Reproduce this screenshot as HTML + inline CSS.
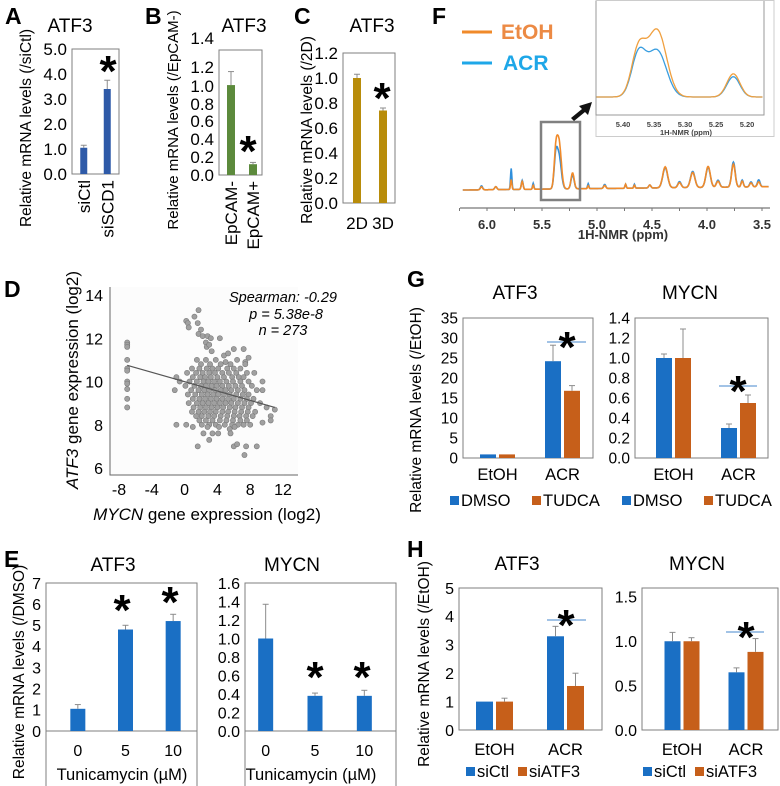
<!DOCTYPE html>
<html><head><meta charset="utf-8">
<style>
html,body{margin:0;padding:0;background:#fff;}
svg{display:block;font-family:"Liberation Sans",Arial,sans-serif;}
</style></head>
<body>
<svg id="fig" width="780" height="786" viewBox="0 0 780 786" xmlns="http://www.w3.org/2000/svg"></svg>
<script>
// ---------- data ----------
const aCats = ['siCtl','siSCD1'];
const aVals = [1.05, 3.4];
const aErrs = [0.1, 0.35];
const bCats = ['EpCAM-','EpCAM+'];
const bVals = [1.0, 0.12];
const bErrs = [0.15, 0.02];
const cCats = ['2D','3D'];
const cVals = [1.0, 0.74];
const cErrs = [0.03, 0.02];
const eCats = ['0','5','10'];
const eAtf3 = [1.05, 4.8, 5.2];
const eAtf3Err = [0.2, 0.2, 0.32];
const eMycn = [1.0, 0.38, 0.38];
const eMycnErr = [0.37, 0.03, 0.06];
const gCats = ['EtOH','ACR'];
const gAtf3Dmso = [0.9, 24.2];
const gAtf3DmsoErr = [0, 4];
const gAtf3Tudca = [0.9, 16.8];
const gAtf3TudcaErr = [0, 1.3];
const gMycnDmso = [1.0, 0.3];
const gMycnDmsoErr = [0.04, 0.04];
const gMycnTudca = [1.0, 0.55];
const gMycnTudcaErr = [0.29, 0.08];
const hAtf3Ctl = [1.0, 3.3];
const hAtf3CtlErr = [0, 0.35];
const hAtf3Si = [1.0, 1.55];
const hAtf3SiErr = [0.12, 0.45];
const hMycnCtl = [1.0, 0.65];
const hMycnCtlErr = [0.1, 0.05];
const hMycnSi = [1.0, 0.88];
const hMycnSiErr = [0.04, 0.15];
const scatterPts = [
[-7,11.8],[-7,11.7],[-7,11.6],[-7,11.0],[-7,10.6],[-7,10.5],[-7,10.0],[-7,9.9],[-7,9.65],[-7,9.2],[-7,8.8],
[0.2,12.8],[0.4,12.7],[0.5,12.5],[1.2,13.0],[1.6,12.7],[1.7,13.3],[2.0,12.4],[1.7,12.2],[2.2,12.1],[2.8,12.1],[3.2,12.0],[4.3,12.0],
[2.6,11.8],[2.7,11.6],[3.0,11.7],[3.3,11.4],[4.8,11.2],[5.3,11.3],[6.0,11.5],[7.2,11.5],[7.8,11.1],[7.4,10.9],
[1.5,11.0],[2.6,11.0],[3.8,11.0],[5.0,10.9],[6.4,11.0],
[2.0,10.8],[3.1,10.8],[4.4,10.8],[5.6,10.8],[7.4,10.8],
[0.9,10.6],[1.8,10.6],[2.7,10.6],[3.4,10.6],[4.1,10.6],[5.2,10.6],[6.0,10.6],[6.8,10.6],
[0.3,10.4],[1.4,10.4],[2.2,10.4],[3.0,10.4],[3.7,10.4],[4.6,10.4],[5.4,10.4],[6.3,10.4],[7.6,10.4],[8.5,10.4],
[-1.0,10.2],[1.0,10.2],[1.9,10.2],[2.5,10.2],[3.2,10.2],[4.0,10.2],[4.8,10.2],[5.8,10.2],[6.6,10.2],[7.2,10.2],
[-0.6,10.0],[0.6,10.0],[1.5,10.0],[2.3,10.0],[2.9,10.0],[3.6,10.0],[4.3,10.0],[5.1,10.0],[5.9,10.0],[6.8,10.0],[7.8,10.0],[9.5,10.0],
[0.1,9.8],[1.2,9.8],[2.0,9.8],[2.6,9.8],[3.3,9.8],[3.9,9.8],[4.6,9.8],[5.4,9.8],[6.2,9.8],[7.0,9.8],[8.2,9.8],
[-1.2,9.6],[0.8,9.6],[1.7,9.6],[2.4,9.6],[3.0,9.6],[3.7,9.6],[4.4,9.6],[5.0,9.6],[5.7,9.6],[6.5,9.6],[7.3,9.6],[8.8,9.6],[9.5,9.6],
[0.4,9.4],[1.3,9.4],[2.1,9.4],[2.8,9.4],[3.5,9.4],[4.1,9.4],[4.8,9.4],[5.5,9.4],[6.3,9.4],[7.1,9.4],[7.8,9.4],
[1.0,9.2],[1.8,9.2],[2.5,9.2],[3.2,9.2],[3.9,9.2],[4.6,9.2],[5.3,9.2],[6.0,9.2],[6.8,9.2],[7.6,9.2],[8.4,9.2],
[0.5,9.0],[1.5,9.0],[2.2,9.0],[2.9,9.0],[3.6,9.0],[4.3,9.0],[5.0,9.0],[5.7,9.0],[6.5,9.0],[7.3,9.0],[8.1,9.0],[9.2,9.0],
[1.1,8.8],[1.9,8.8],[2.6,8.8],[3.3,8.8],[4.0,8.8],[4.7,8.8],[5.5,8.8],[6.2,8.8],[7.0,8.8],[7.8,8.8],[10.0,8.8],[11.0,8.7],
[0.9,8.6],[1.7,8.6],[2.4,8.6],[3.1,8.6],[3.8,8.6],[4.6,8.6],[5.3,8.6],[6.1,8.6],[6.9,8.6],[7.7,8.6],[8.6,8.6],
[1.4,8.4],[2.1,8.4],[2.9,8.4],[3.6,8.4],[4.4,8.4],[5.2,8.4],[6.0,8.4],[6.7,8.4],[7.5,8.4],[8.3,8.4],[10.5,8.4],
[1.8,8.2],[2.6,8.2],[3.4,8.2],[4.3,8.2],[5.1,8.2],[5.9,8.2],[6.8,8.2],[7.6,8.2],[10.5,8.2],[9.5,8.1],
[-1.0,8.0],[0.2,8.0],[2.1,8.0],[3.0,8.0],[3.8,8.0],[4.9,8.0],[5.8,8.0],[6.5,8.0],[7.2,8.0],[8.0,8.0],
[1.0,7.9],[2.8,7.9],[4.2,7.9],[6.1,7.9],[5.5,7.8],
[2.3,7.6],[3.4,7.6],[4.1,7.6],[5.6,7.6],[3.0,7.3],
[1.6,7.0],[6.0,7.0],[7.5,7.0],[8.8,7.0],[6.4,7.1],[7.3,6.6]
];
const regX = [-7, 11];
const regY = [10.75, 8.8];
const nmrPpm   = [6.05, 5.92, 5.78, 5.68, 5.58, 5.375, 5.345, 5.222, 5.08, 4.93, 4.74, 4.66, 4.52, 4.38, 4.25, 4.13, 3.99, 3.9, 3.76, 3.68, 3.6, 3.53];
const nmrEtoh  = [3, 3, 10, 8, 4, 32, 46, 16, 3, 3, 4, 3, 3, 21, 5, 15, 21, 6, 23, 6, 4, 5];
const nmrAcr   = [4, 3, 21, 9, 6, 29, 32, 14, 5, 4, 4, 4, 3, 20, 6, 16, 20, 7, 25, 7, 5, 7];
const nmrWidth = [0.01, 0.01, 0.006, 0.008, 0.006, 0.015, 0.02, 0.014, 0.006, 0.01, 0.006, 0.006, 0.01, 0.022, 0.015, 0.02, 0.02, 0.015, 0.016, 0.01, 0.012, 0.012];

// ---------- helpers ----------
const NS = 'http://www.w3.org/2000/svg';
const svg = document.getElementById('fig');
function el(tag, attrs, parent){
  const e = document.createElementNS(NS, tag);
  for (const k in attrs) e.setAttribute(k, attrs[k]);
  (parent || svg).appendChild(e);
  return e;
}
function txt(s, x, y, attrs, parent){
  const t = el('text', Object.assign({x:x, y:y}, attrs||{}), parent);
  t.textContent = s;
  return t;
}
function linScale(d0,d1,r0,r1){ return v => r0 + (v-d0)/(d1-d0)*(r1-r0); }

[['A',5,24],['B',145,24],['C',294,24],['D',4,297],['E',4,567],['F',432,24],['G',407,287],['H',407,557]].forEach(p=>{
  const t = txt(p[0], p[1], p[2], {'font-size':23,'font-weight':'bold'});
  
  
});

function title(s, x, y){
  const t = txt(s, x, y, {'font-size':19,'text-anchor':'middle'});
  
  
}
function yTitle(s, x, cy, size){
  const t = txt(s, 0, 0, {'font-size':size||15.5,'text-anchor':'middle','transform':'translate('+x+','+cy+') rotate(-90)'});
  
  
  return t;
}
function star(x, y, size){
  const t = txt('*', x, y, {'font-size':size||44,'font-weight':'bold','text-anchor':'middle'});
  
  
}

function barChart(cfg){
  const g = el('g', {});
  
  
  const [x0,x1,yT,yB] = cfg.frame;
  const y = linScale(0, cfg.yMax, yB, yT);
  const fb = cfg.frameBottom || yB;
  const fs = cfg.fs || 16;
  const fr = el('rect', {x:x0, y:yT, width:x1-x0, height:fb-yT, fill:'none', stroke:'#7f7f7f', 'stroke-width':1}, g);
  
  
  if (fb !== yB){
    const ax = el('line', {x1:x0, x2:x1, y1:yB, y2:yB, stroke:'#7f7f7f'}, g);
    
    
  }
  cfg.ticks.forEach((v,i)=>{
    const ty = cfg.tickY ? cfg.tickY[i] : y(v);
    const t = txt(cfg.tickLabels[i], x0-5, ty+fs*0.36, {'font-size':fs,'text-anchor':'end'}, g);
    
    
  });
  const [r0,r1] = cfg.xRange;
  const band = (r1-r0)/cfg.cats.length;
  const ns = cfg.series.length;
  cfg.cats.forEach((c,i)=>{
    const cx = r0 + band*(i+0.5);
    cfg.series.forEach((s,j)=>{
      const off = ns===1 ? 0 : (j-(ns-1)/2)*(cfg.barW+cfg.gap);
      const bx = cx + off - cfg.barW/2;
      const v = s.vals[i];
      const b = el('rect', {x:bx, y:y(v), width:cfg.barW, height:yB-y(v), fill:s.color}, g);
      
      
      const e = s.errs[i];
      if (e>0){
        const ex = cx+off, ey = y(v+e);
        const l1 = el('line', {x1:ex, x2:ex, y1:y(v), y2:ey, stroke:'#8c8c8c', 'stroke-width':1}, g);
        
        
        const l2 = el('line', {x1:ex-3, x2:ex+3, y1:ey, y2:ey, stroke:'#8c8c8c', 'stroke-width':1}, g);
        
        
      }
    });
    if (cfg.rotLabels){
      const t = txt(c, 0, 0, {'font-size':fs,'text-anchor':'end','transform':'translate('+(cx+6)+','+(yB+6)+') rotate(-90)'}, g);
      
      
    } else {
      const t = txt(c, cx, cfg.xLabelY, {'font-size':cfg.xfs||fs,'text-anchor':'middle'}, g);
      
      
    }
  });
  return {g, y};
}

// A
title('ATF3', 70, 32);
barChart({name:'chart-a', frame:[72,119,49,174], yMax:5, ticks:[0,1,2,3,4,5], tickLabels:['0.0','1.0','2.0','3.0','4.0','5.0'],
  xRange:[72,119], cats:aCats, series:[{vals:aVals, errs:aErrs, color:'#2e5aa8'}], barW:7, gap:0, rotLabels:true, fs:17});
yTitle('Relative mRNA levels (/siCtl)', 31, 128);
star(108, 86);

// B
title('ATF3', 244, 32);
barChart({name:'chart-b', frame:[219,262,50,175], yMax:1.39, ticks:[0,0.2,0.4,0.6,0.8,1.0,1.2,1.4],
  tickY:[175,157,139,121,104,86,67,38],
  tickLabels:['0.0','0.2','0.4','0.6','0.8','1.0','1.2','1.4'],
  xRange:[220,264], cats:bCats, series:[{vals:bVals, errs:bErrs, color:'#5c8a3c'}], barW:8, gap:0, rotLabels:true, fs:17});
yTitle('Relative mRNA levels (/EpCAM-)', 178, 120, 15);
star(248, 166);

// C
title('ATF3', 372, 32);
barChart({name:'chart-c', frame:[343,395,53,203], yMax:1.2, ticks:[0,0.2,0.4,0.6,0.8,1.0,1.2], tickLabels:['0.0','0.2','0.4','0.6','0.8','1.0','1.2'],
  xRange:[344,396], cats:cCats, series:[{vals:cVals, errs:cErrs, color:'#b88c0a'}], barW:8, gap:0, xLabelY:229, fs:17});
yTitle('Relative mRNA levels (/2D)', 312, 130);
star(382, 113);

// F
(function(){
  const g = el('g', {});
  
  
  const px = linScale(6.0, 3.5, 487, 762);
  const base = ppm => 190 - (6.2-ppm)*1.2;
  function specPath(h){
    let d = '';
    for (let p = 6.22; p >= 3.44; p -= 0.004){
      let v = 0;
      for (let k=0;k<nmrPpm.length;k++){
        const z = (p-nmrPpm[k])/nmrWidth[k];
        v += h[k]*Math.exp(-0.5*z*z);
      }
      d += (d?'L':'M') + px(p).toFixed(1) + ',' + (base(p)-v).toFixed(1);
    }
    return d;
  }
  const s1 = el('path', {d:specPath(nmrAcr), fill:'none', stroke:'#2f8fdc', 'stroke-width':1.6}, g);
  
  
  const s2 = el('path', {d:specPath(nmrEtoh), fill:'none', stroke:'#f08a2a', 'stroke-width':1.6}, g);
  
  
  const ax = el('line', {x1:460, x2:770, y1:208, y2:208, stroke:'#777', 'stroke-width':1.2}, g);
  
  
  [6.0,5.5,5.0,4.5,4.0,3.5].forEach(v=>{
    const t = txt(v.toFixed(1), px(v), 229, {'font-size':13,'font-weight':'bold','text-anchor':'middle','fill':'#333'}, g);
    
    
  });
  for (let v=6.25; v>=3.5; v-=0.25){
    const tk = el('line', {x1:px(v), x2:px(v), y1:208, y2:211, stroke:'#777'}, g);
    
    
  }
  const xt = txt('1H-NMR (ppm)', 623, 239, {'font-size':13,'font-weight':'bold','text-anchor':'middle','fill':'#333'}, g);
  
  
  const box = el('rect', {x:541, y:122, width:39, height:78, fill:'none', stroke:'#808080', 'stroke-width':2.5}, g);
  
  
  const arr = el('path', {d:'M571,118 L582,109 L579,106 L592,102 L588,115 L585,112 L574,121 Z', fill:'#111'}, g);
  
  
  const l1 = el('line', {x1:462, x2:492, y1:32, y2:32, stroke:'#f08a2a', 'stroke-width':3}, g);
  
  
  const t1 = txt('EtOH', 501, 39, {'font-size':21,'font-weight':'bold','fill':'#ec8a44'}, g);
  
  
  const l2 = el('line', {x1:462, x2:492, y1:63, y2:63, stroke:'#1ea7e8', 'stroke-width':3}, g);
  
  
  const t2 = txt('ACR', 503, 70, {'font-size':21,'font-weight':'bold','fill':'#1ea7e8'}, g);
  
  
  const ig = el('g', {}, g);
  
  
  const ob = el('rect', {x:596, y:0.5, width:178, height:136, fill:'#fff', stroke:'#ccc'}, ig);
  
  
  const ipx = linScale(5.40, 5.20, 623, 747);
  const ib = el('path', {d:'M596,1 L596,115 L764,115 L764,1', fill:'none', stroke:'#999'}, ig);
  
  
  function insetPath(h){
    let d='';
    for (let p=5.443; p>=5.175; p-=0.002){
      let v=0;
      for (let k=5;k<8;k++){
        const w = nmrWidth[k]*0.75;
        const z=(p-nmrPpm[k])/w; v+=h[k]*Math.exp(-0.5*z*z);
      }
      d += (d?'L':'M') + ipx(p).toFixed(1)+','+(97 - v*1.45).toFixed(1);
    }
    return d;
  }
  const ia = el('path', {d:insetPath(nmrAcr), fill:'none', stroke:'#3a9ee0', 'stroke-width':1.3}, ig);
  
  
  const ie = el('path', {d:insetPath(nmrEtoh), fill:'none', stroke:'#f0a040', 'stroke-width':1.3}, ig);
  
  
  [5.40,5.35,5.30,5.25,5.20].forEach(v=>{
    const t = txt(v.toFixed(2), ipx(v), 127, {'font-size':7.5,'font-weight':'bold','text-anchor':'middle','fill':'#444'}, ig);
    
    
  });
  const it = txt('1H-NMR (ppm)', 686, 135, {'font-size':7.5,'font-weight':'bold','text-anchor':'middle','fill':'#444'}, ig);
  
  
})();

// D
(function(){
  const g = el('g', {});
  
  
  const x = linScale(-8, 12, 119, 283);
  const y = linScale(6, 14, 468, 295);
  const bg = el('rect', {x:110, y:287, width:188, height:188, fill:'#fcfcfc'}, g);
  
  
  const ax = el('path', {d:'M110,287 L110,475 L298,475', fill:'none', stroke:'#666'}, g);
  
  
  [-8,-4,0,4,8,12].forEach(v=>{
    const t = txt(String(v), x(v), 495, {'font-size':16,'text-anchor':'middle'}, g);
    
    
  });
  [6,8,10,12,14].forEach(v=>{
    const t = txt(String(v), 103, y(v)+6, {'font-size':16,'text-anchor':'end'}, g);
    
    
  });
  scatterPts.forEach(p=>{
    const c = el('circle', {cx:x(p[0]), cy:y(p[1]), r:2.6, fill:'#a0a0a0', stroke:'#7a7a7a', 'stroke-width':0.6}, g);
    
    
  });
  const rl = el('line', {x1:x(regX[0]), y1:y(regY[0]), x2:x(regX[1]), y2:y(regY[1]), stroke:'#555', 'stroke-width':1.2}, g);
  
  
  [['Spearman: -0.29',283,302],['p = 5.38e-8',286,319],['n = 273',283,335]].forEach(s=>{
    const t = txt(s[0], s[1], s[2], {'font-size':14.5,'font-style':'italic','text-anchor':'middle'}, g);
    
    
  });
  const xt = el('text', {x:207, y:520, 'font-size':17, 'text-anchor':'middle'}, g);
  xt.innerHTML = '<tspan font-style="italic">MYCN</tspan> gene expression (log2)';
  
  
  const yt = el('text', {x:0, y:0, 'font-size':17, 'text-anchor':'middle', transform:'translate(78,380) rotate(-90)'}, g);
  yt.innerHTML = '<tspan font-style="italic">ATF3</tspan> gene expression (log2)';
  
  
})();

// E
const blue = '#1a6fc4', orange = '#c65f1a';
title('ATF3', 113, 571);
title('MYCN', 292, 571);
barChart({name:'chart-e-atf3', frame:[46,197,583,731], frameBottom:790, yMax:7, ticks:[0,1,2,3,4,5,6,7], tickLabels:['0','1','2','3','4','5','6','7'],
  xRange:[54,197], cats:eCats, series:[{vals:eAtf3, errs:eAtf3Err, color:blue}], barW:15, gap:0, xLabelY:756, fs:16});
barChart({name:'chart-e-mycn', frame:[245,396,583,731], frameBottom:790, yMax:1.6, ticks:[0,0.2,0.4,0.6,0.8,1.0,1.2,1.4,1.6], tickLabels:['0.0','0.2','0.4','0.6','0.8','1.0','1.2','1.4','1.6'],
  xRange:[241,389], cats:eCats, series:[{vals:eMycn, errs:eMycnErr, color:blue}], barW:15, gap:0, xLabelY:756, fs:16});
txt('Tunicamycin (\u00b5M)', 122, 780, {'font-size':16.5,'text-anchor':'middle'});
txt('Tunicamycin (\u00b5M)', 311, 780, {'font-size':16.5,'text-anchor':'middle'});
yTitle('Relative mRNA levels (/DMSO)', 24, 672);
star(122, 625); star(170, 617); star(315, 692); star(362, 692);

// G
title('ATF3', 515, 299);
title('MYCN', 690, 299);
barChart({name:'chart-g-atf3', frame:[463,593,318,458], yMax:35, ticks:[0,5,10,15,20,25,30,35], tickLabels:['0','5','10','15','20','25','30','35'],
  xRange:[465,595], cats:gCats, series:[{vals:gAtf3Dmso, errs:gAtf3DmsoErr, color:blue, key:'dmso'},{vals:gAtf3Tudca, errs:gAtf3TudcaErr, color:orange, key:'tudca'}],
  barW:16, gap:3, xLabelY:480, fs:15.5, xfs:16.5});
barChart({name:'chart-g-mycn', frame:[635,768,318,458], yMax:1.4, ticks:[0,0.2,0.4,0.6,0.8,1.0,1.2,1.4], tickLabels:['0.0','0.2','0.4','0.6','0.8','1.0','1.2','1.4'],
  xRange:[641,771], cats:gCats, series:[{vals:gMycnDmso, errs:gMycnDmsoErr, color:blue, key:'dmso'},{vals:gMycnTudca, errs:gMycnTudcaErr, color:orange, key:'tudca'}],
  barW:16, gap:3, xLabelY:480, fs:15.5, xfs:16.5});
yTitle('Relative mRNA levels (/EtOH)', 421, 410);
function sigLine(x1,x2,y){
  const l = el('line', {x1:x1, x2:x2, y1:y, y2:y, stroke:'#6a9fd8', 'stroke-width':1.3});
  
  
}
sigLine(547,586,342); star(567,362);
sigLine(719,757,386); star(738,406);
function legend(items, y){
  items.forEach(it=>{
    const r = el('rect', {x:it[0], y:y-10, width:9, height:9, fill:it[2]});
    
    
    const t = txt(it[1], it[0]+11, y, {'font-size':16.5});
    
    
  });
}
legend([[450,'DMSO',blue],[532,'TUDCA',orange]], 506);
legend([[622,'DMSO',blue],[704,'TUDCA',orange]], 506);

// H
title('ATF3', 517, 570);
title('MYCN', 697, 570);
barChart({name:'chart-h-atf3', frame:[459,602,588,730], yMax:5, ticks:[0,1,2,3,4,5], tickLabels:['0','1','2','3','4','5'],
  xRange:[459,601], cats:gCats, series:[{vals:hAtf3Ctl, errs:hAtf3CtlErr, color:blue, key:'sictl'},{vals:hAtf3Si, errs:hAtf3SiErr, color:orange, key:'siatf3'}],
  barW:17, gap:3, xLabelY:755, fs:16, xfs:16.5});
barChart({name:'chart-h-mycn', frame:[642,778,588,730], yMax:1.6, ticks:[0,0.5,1.0,1.5], tickLabels:['0.0','0.5','1.0','1.5'],
  xRange:[650,778], cats:gCats, series:[{vals:hMycnCtl, errs:hMycnCtlErr, color:blue, key:'sictl'},{vals:hMycnSi, errs:hMycnSiErr, color:orange, key:'siatf3'}],
  barW:16, gap:3, xLabelY:755, fs:16, xfs:16.5});
yTitle('Relative mRNA levels (/EtOH)', 429, 664);
sigLine(547,586,620); star(566,640);
sigLine(726,764,632); star(746,652);
legend([[466,'siCtl',blue],[518,'siATF3',orange]], 777);
legend([[643,'siCtl',blue],[695,'siATF3',orange]], 777);
</script>
</body></html>
